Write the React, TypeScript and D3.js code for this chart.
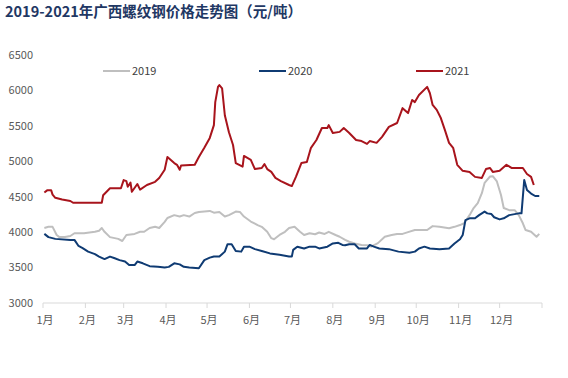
import React from "react";
import * as d3 from "d3";

const title = "2019-2021年广西螺纹钢价格走势图（元/吨）";
const monthLabels = ["1月", "2月", "3月", "4月", "5月", "6月", "7月", "8月", "9月", "10月", "11月", "12月"];
const yTicks = [3000, 3500, 4000, 4500, 5000, 5500, 6000, 6500];

const dates2019 = ["01-02","01-05","01-08","01-11","01-13","01-17","01-21","01-24","01-31","02-08","02-11","02-13","02-15","02-19","02-25","02-28","03-03","03-09","03-13","03-16","03-20","03-24","03-27","03-31","04-02","04-07","04-11","04-14","04-18","04-22","04-25","05-03","05-06","05-10","05-14","05-17","05-22","05-25","05-28","06-02","06-07","06-10","06-14","06-17","06-19","06-23","06-27","06-30","07-04","07-08","07-11","07-15","07-19","07-22","07-26","07-29","08-03","08-06","08-10","08-13","08-17","08-22","08-26","08-29","09-03","09-08","09-13","09-17","09-21","09-25","09-30","10-03","10-09","10-13","10-18","10-25","10-29","11-02","11-05","11-09","11-12","11-15","11-18","11-20","11-24","11-26","11-29","12-02","12-04","12-08","12-12","12-15","12-18","12-20","12-24","12-28","12-30"];
const values2019 = [4058,4075,4075,3960,3930,3930,3945,3985,3985,4005,4020,4058,4005,3930,3905,3875,3960,3975,4005,4005,4058,4075,4058,4145,4200,4240,4220,4240,4220,4270,4285,4300,4275,4285,4220,4240,4290,4285,4220,4150,4100,4075,4005,3915,3900,3960,4005,4058,4075,4005,3960,3985,3970,3995,3975,4005,3960,3935,3890,3865,3840,3820,3815,3795,3845,3935,3960,3975,3975,4000,4030,4030,4030,4085,4075,4055,4075,4100,4125,4240,4340,4410,4550,4695,4785,4790,4715,4525,4340,4310,4310,4240,4125,4030,4005,3935,3975];

const dates2020 = ["01-02","01-05","01-10","01-21","01-24","01-27","01-30","02-03","02-08","02-11","02-15","02-19","02-22","02-26","03-02","03-05","03-09","03-11","03-15","03-20","03-26","03-31","04-03","04-07","04-11","04-14","04-18","04-25","04-29","05-03","05-06","05-10","05-14","05-16","05-19","05-22","05-26","05-28","06-01","06-05","06-10","06-16","06-23","06-30","07-02","07-03","07-06","07-11","07-15","07-19","07-22","07-28","08-01","08-05","08-08","08-10","08-13","08-17","08-20","08-26","08-28","08-31","09-04","09-11","09-18","09-26","09-30","10-03","10-07","10-11","10-18","10-25","10-29","11-02","11-04","11-06","11-09","11-13","11-16","11-20","11-22","11-25","11-27","12-01","12-04","12-08","12-15","12-17","12-19","12-21","12-24","12-27","12-30"];
const values2020 = [3975,3930,3905,3890,3890,3805,3775,3725,3690,3655,3620,3655,3635,3605,3585,3535,3535,3585,3560,3520,3510,3500,3510,3560,3545,3510,3500,3490,3605,3640,3655,3655,3725,3830,3830,3735,3725,3795,3795,3760,3735,3700,3680,3655,3655,3750,3795,3770,3795,3795,3770,3795,3840,3850,3820,3815,3830,3830,3770,3770,3820,3795,3770,3760,3725,3710,3725,3770,3795,3770,3760,3770,3840,3900,3960,4170,4195,4195,4240,4290,4265,4255,4210,4180,4195,4240,4265,4265,4735,4595,4545,4510,4510];

const dates2021 = ["01-02","01-04","01-07","01-08","01-10","01-15","01-21","01-23","02-13","02-14","02-19","02-27","03-01","03-03","03-04","03-06","03-07","03-11","03-13","03-18","03-24","03-27","03-31","04-02","04-07","04-09","04-11","04-12","04-22","04-25","04-29","05-03","05-06","05-07","05-09","05-10","05-12","05-14","05-17","05-20","05-22","05-27","05-28","06-02","06-05","06-10","06-12","06-14","06-17","06-20","06-24","06-30","07-02","07-05","07-09","07-13","07-16","07-20","07-24","07-28","07-29","08-01","08-06","08-09","08-13","08-18","08-22","08-26","08-28","09-02","09-06","09-11","09-17","09-21","09-25","09-28","09-30","10-03","10-09","10-11","10-13","10-16","10-19","10-22","10-25","10-28","10-31","11-04","11-09","11-13","11-18","11-21","11-24","11-26","12-01","12-06","12-10","12-18","12-21","12-24","12-26"];
const values2021 = [4560,4590,4590,4530,4485,4460,4440,4415,4415,4520,4620,4620,4735,4720,4640,4700,4570,4680,4600,4665,4710,4765,4880,5060,4975,4950,4880,4940,4950,5060,5190,5330,5510,5835,6050,6075,6030,5650,5410,5230,4975,4925,5075,5020,4890,4905,4960,4890,4850,4765,4720,4665,4650,4780,4975,4990,5190,5300,5470,5470,5510,5400,5415,5470,5400,5300,5285,5245,5285,5260,5345,5485,5540,5750,5680,5865,5835,5935,6050,5960,5795,5725,5610,5440,5260,5190,4950,4865,4850,4780,4765,4890,4905,4850,4865,4950,4905,4905,4820,4780,4665];

const seriesNames = ["2019", "2020", "2021"];
const seriesColors = ["#BFBFBF", "#0F3B73", "#A8141C"];

const parse = d3.timeParse("%Y-%m-%d");
const BASE = "2021";

export default function App() {
  const W = 568, H = 378;
  const x = d3.scaleTime()
    .domain([parse(`${BASE}-01-01`) as Date, parse(`2022-01-01`) as Date])
    .range([43, 542]);
  const y = d3.scaleLinear().domain([3000, 6500]).range([303, 55]);

  const series = [
    { dates: dates2019, values: values2019 },
    { dates: dates2020, values: values2020 },
    { dates: dates2021, values: values2021 },
  ].map((s) => s.dates.map((d, i) => ({ date: parse(`${BASE}-${d}`) as Date, v: s.values[i] })));

  const line = d3.line<{ date: Date; v: number }>()
    .x((d) => x(d.date))
    .y((d) => y(d.v));

  const monthStarts = d3.range(12).map((m) => new Date(2021, m, 1));
  const legendX = [103, 259, 416];
  const font = "'Microsoft YaHei', 'Noto Sans CJK SC', 'Noto Sans', sans-serif";

  return (
    <svg width={W} height={H} style={{ position: "absolute", left: 0, top: 0, background: "#fff" }} fontFamily={font}>
      <text x={5} y={17} fontSize={14.5} fontWeight="bold" fill="#1F3864">{title}</text>
      {yTicks.map((t) => (
        <text key={t} x={33} y={y(t)} dy="0.35em" textAnchor="end" fontSize={11} fill="#595959">{t}</text>
      ))}
      <line x1={x.range()[0]} x2={x.range()[1]} y1={303} y2={303} stroke="#D9D9D9" strokeWidth={1} />
      {monthStarts.map((d, i) => (
        <g key={i}>
          <line x1={x(d)} x2={x(d)} y1={303} y2={308} stroke="#D9D9D9" />
          <text x={x(d) + 2} y={320} dy="0.35em" textAnchor="middle" fontSize={11} fill="#595959">{monthLabels[i]}</text>
        </g>
      ))}
      {x.range()[1] && <line x1={x.range()[1]} x2={x.range()[1]} y1={303} y2={308} stroke="#D9D9D9" />}
      {series.map((s, i) => (
        <path key={i} d={line(s) || ""} fill="none" stroke={seriesColors[i]} strokeWidth={2} strokeLinejoin="round" />
      ))}
      {seriesNames.map((n, i) => (
        <g key={n}>
          <line x1={legendX[i]} x2={legendX[i] + 27} y1={71} y2={71} stroke={seriesColors[i]} strokeWidth={2} />
          <text x={legendX[i] + 29} y={71} dy="0.35em" fontSize={11} fill="#404040">{n}</text>
        </g>
      ))}
    </svg>
  );
}
